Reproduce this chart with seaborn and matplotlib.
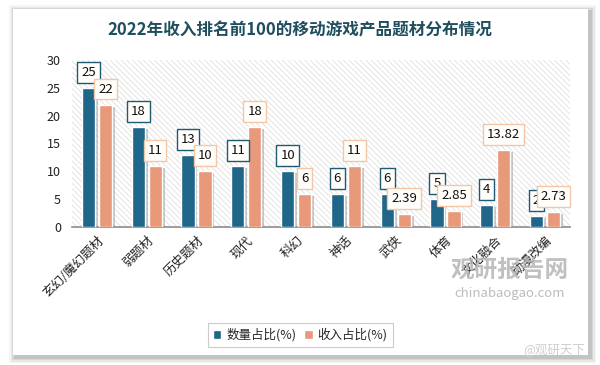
import matplotlib
matplotlib.use("Agg")
import matplotlib.pyplot as plt
import matplotlib.patheffects as pe
from matplotlib.patches import Rectangle
import seaborn as sns
import pandas as pd

# Data
categories = ["玄幻/魔幻题材", "弱题材", "历史题材", "现代", "科幻",
              "神话", "武侠", "体育", "文化融合", "动漫改编"]
count_share = [25, 18, 13, 11, 10, 6, 6, 5, 4, 2]
revenue_share = [22, 11, 10, 18, 6, 11, 2.39, 2.85, 13.82, 2.73]
series_names = ["数量占比(%)", "收入占比(%)"]
y_ticks = [0, 5, 10, 15, 20, 25, 30]

teal = "#1F6689"
salmon = "#E8997A"

df = pd.DataFrame({
    "题材": categories * 2,
    "值": count_share + revenue_share,
    "系列": [series_names[0]] * len(categories) + [series_names[1]] * len(categories),
})

sns.set_theme(style="white")
plt.rcParams["font.family"] = ["Noto Sans CJK SC", "DejaVu Sans"]
plt.rcParams["hatch.linewidth"] = 0.5

fig = plt.figure(figsize=(6, 3.65), dpi=100)
fig.patch.set_facecolor("white")

# card with soft shadow
cx, cy, cw, ch = 13, 10, 575, 346  # pixels, y measured from bottom
for i, a in enumerate([0.04, 0.05, 0.07, 0.09]):
    d = (4 - i) * 1.5
    fig.patches.append(Rectangle(((cx - d + 2) / 600, (cy - d - 2) / 365),
                                 (cw + 2 * d) / 600, (ch + 2 * d) / 365,
                                 transform=fig.transFigure, facecolor="black",
                                 alpha=a, lw=0, zorder=-2))
fig.patches.append(Rectangle((cx / 600, cy / 365), cw / 600, ch / 365,
                             transform=fig.transFigure, facecolor="white",
                             lw=0, zorder=-1))

ax = fig.add_axes([72 / 600, 1 - 227 / 365, 498 / 600, 167 / 365])
ax.set_zorder(1)
ax.set_facecolor("none")

# hatched plot area background
ax.add_patch(Rectangle((0, 0), 1, 1, transform=ax.transAxes, facecolor="white",
                       edgecolor="#DADADA", hatch="\\\\\\\\\\\\", lw=0, zorder=0))

sns.barplot(data=df, x="题材", y="值", hue="系列", palette=[teal, salmon],
            saturation=1, width=0.68, gap=0.22, ax=ax, legend=True, zorder=3)

for p in ax.patches:
    if p.get_height() > 0 and p.get_width() < 1:
        p.set_path_effects([pe.SimplePatchShadow(offset=(2, -1.5), shadow_rgbFace="#888888", alpha=0.45),
                            pe.Normal()])

# value labels in boxes; revenue labels drawn on top
for container, vals, ec in zip(ax.containers, [count_share, revenue_share], ["#1F5A73", "#F2C6A6"]):
    for bar, v in zip(container, vals):
        ax.annotate(f"{v:g}", (bar.get_x() + bar.get_width() / 2, bar.get_height()),
                    xytext=(0, 9), textcoords="offset pixels", ha="center", va="bottom",
                    fontsize=9.5, color="#111111", zorder=5,
                    bbox=dict(boxstyle="square,pad=0.3", facecolor="#FFFEFB", edgecolor=ec, lw=1))

ax.set_ylim(0, 30)
ax.set_xlim(-0.5, len(categories) - 0.5)
ax.set_yticks(y_ticks)
ax.set_xlabel("")
ax.set_ylabel("")
ax.tick_params(axis="y", labelsize=9, colors="#222222", length=0, pad=8)
ax.tick_params(axis="x", labelsize=9, colors="#222222", length=0, pad=5)
plt.setp(ax.get_xticklabels(), rotation=45, ha="right", rotation_mode="anchor")
for s in ["top", "right", "left"]:
    ax.spines[s].set_visible(False)
ax.spines["bottom"].set_color("#8C8C8C")
ax.spines["bottom"].set_linewidth(1.2)

handles, labels = ax.get_legend_handles_labels()
ax.get_legend().remove()
leg = fig.legend(handles, labels, loc="center", bbox_to_anchor=(300 / 600, 1 - 335 / 365),
                 ncol=2, frameon=True, fontsize=9, handlelength=0.7, handleheight=0.7,
                 handletextpad=0.4, columnspacing=0.6, borderpad=0.4, fancybox=False)
leg.get_frame().set_edgecolor("#BFBFBF")
leg.get_frame().set_linewidth(0.8)

fig.text(300 / 600, 1 - 30 / 365, "2022年收入排名前100的移动游戏产品题材分布情况",
         ha="center", va="center", fontsize=12, fontweight="bold", color="#1F4E5F")

# watermarks
fig.text(510 / 600, 1 - 270 / 365, "观研报告网", ha="center", va="center",
         fontsize=17, fontweight="bold", color="#B5B5B5", alpha=0.85, zorder=10)
fig.text(510 / 600, 1 - 293 / 365, "chinabaogao.com", ha="center", va="center",
         fontsize=9.5, color="#B5B5B5", alpha=0.9, zorder=10)
fig.text(585 / 600, 1 - 350 / 365, "@观研天下", ha="right", va="center",
         fontsize=9, color="#CFCFCF", zorder=10)

fig.savefig("out.png", dpi=100)
